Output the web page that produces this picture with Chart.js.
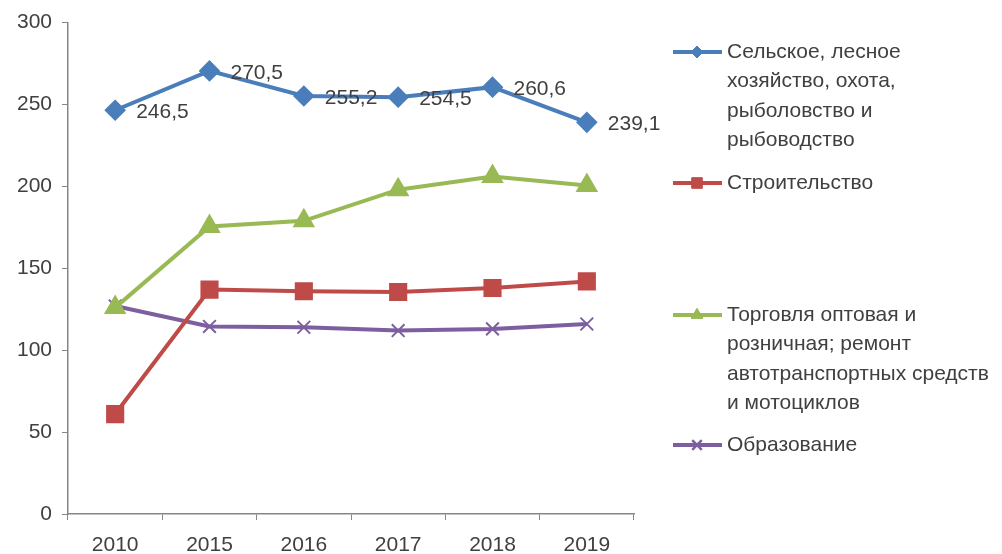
<!DOCTYPE html>
<html lang="ru">
<head>
    <meta charset="UTF-8">
    <title>Chart</title>
    <script src="https://cdn.jsdelivr.net/npm/chart.js@4.4.0/dist/chart.umd.min.js"></script>
    <style>
        body {
            margin: 0;
            background: #fff;
        }
        .wrap {
            width: 1002px;
            height: 554px;
            position: relative;
        }
    </style>
</head>
<body>
    <div class="wrap">
        <canvas id="chart"></canvas>
    </div>

    <script>
        const years = ['2010', '2015', '2016', '2017', '2018', '2019'];

        const agriculture = [246.5, 270.5, 255.2, 254.5, 260.6, 239.1];
        const construction = [61, 137, 136, 135.5, 138, 142];
        const trade = [126, 175.5, 179, 198, 206, 200.5];
        const education = [127, 114.5, 114, 112, 113, 116];

        const legendLines = [
            ['Сельское, лесное', 'хозяйство, охота,', 'рыболовство и', 'рыбоводство'],
            ['Строительство'],
            ['Торговля оптовая и', 'розничная; ремонт', 'автотранспортных средств', 'и мотоциклов'],
            ['Образование']
        ];

        const fontFamily = '"Liberation Sans", Arial, sans-serif';
        const textColor = '#404040';

        // value labels on the first series, comma as decimal separator
        const valueLabels = {
            id: 'valueLabels',
            afterDatasetsDraw(chart) {
                const ctx = chart.ctx;
                const meta = chart.getDatasetMeta(0);
                ctx.save();
                ctx.font = '21px ' + fontFamily;
                ctx.fillStyle = textColor;
                ctx.textAlign = 'left';
                ctx.textBaseline = 'middle';
                meta.data.forEach((pt, i) => {
                    const v = chart.data.datasets[0].data[i];
                    ctx.fillText(v.toFixed(1).replace('.', ','), pt.x + 21, pt.y + 2);
                });
                ctx.restore();
            }
        };

        // legend drawn on the right like the office chart
        const sideLegend = {
            id: 'sideLegend',
            afterDraw(chart) {
                const ctx = chart.ctx;
                const tops = [52, 183, 315, 445];
                const lineH = 29.5;
                ctx.save();
                chart.data.datasets.forEach((ds, i) => {
                    const y = tops[i];
                    ctx.strokeStyle = ds.borderColor;
                    ctx.lineWidth = 4;
                    ctx.beginPath();
                    ctx.moveTo(673, y);
                    ctx.lineTo(722, y);
                    ctx.stroke();
                    ctx.fillStyle = ds.backgroundColor;
                    ctx.strokeStyle = ds.borderColor;
                    ctx.lineWidth = ds.pointStyle === 'crossRot' ? 2.5 : 1;
                    Chart.helpers.drawPoint(ctx, {
                        pointStyle: ds.pointStyle,
                        radius: ds.pointRadius * 0.75,
                        borderWidth: ctx.lineWidth
                    }, 697, y);
                    ctx.font = '21px ' + fontFamily;
                    ctx.fillStyle = textColor;
                    ctx.textBaseline = 'middle';
                    ctx.textAlign = 'left';
                    legendLines[i].forEach((t, j) => {
                        ctx.fillText(t, 727, y + j * lineH);
                    });
                });
                ctx.restore();
            }
        };

        const ctx = document.getElementById('chart').getContext('2d');
        new Chart(ctx, {
            type: 'line',
            data: {
                labels: years,
                datasets: [{
                    label: legendLines[0].join(' '),
                    data: agriculture,
                    borderColor: '#4a7ebb',
                    backgroundColor: '#4a7ebb',
                    borderWidth: 4,
                    pointStyle: 'rectRot',
                    pointRadius: 8,
                    tension: 0
                }, {
                    label: legendLines[1].join(' '),
                    data: construction,
                    borderColor: '#be4b48',
                    backgroundColor: '#be4b48',
                    borderWidth: 4,
                    pointStyle: 'rect',
                    pointRadius: 10,
                    tension: 0
                }, {
                    label: legendLines[2].join(' '),
                    data: trade,
                    borderColor: '#98b954',
                    backgroundColor: '#98b954',
                    borderWidth: 4,
                    pointStyle: 'triangle',
                    pointRadius: 9,
                    tension: 0
                }, {
                    label: legendLines[3].join(' '),
                    data: education,
                    borderColor: '#7d5fa0',
                    backgroundColor: '#7d5fa0',
                    borderWidth: 4,
                    pointStyle: 'crossRot',
                    pointRadius: 9,
                    pointBorderWidth: 2,
                    tension: 0
                }]
            },
            options: {
                responsive: true,
                maintainAspectRatio: false,
                animation: false,
                layout: {
                    padding: { top: 10, right: 368, bottom: 0, left: 0 }
                },
                plugins: {
                    legend: { display: false },
                    tooltip: { enabled: false }
                },
                scales: {
                    x: {
                        offset: true,
                        afterFit(scale) {
                            scale.height = 40;
                        },
                        grid: {
                            offset: true,
                            drawOnChartArea: false,
                            tickLength: 6,
                            color: '#868686'
                        },
                        border: { color: '#868686', width: 1.5 },
                        ticks: {
                            color: textColor,
                            font: { size: 21, family: fontFamily },
                            padding: 13
                        }
                    },
                    y: {
                        min: 0,
                        max: 300,
                        afterFit(scale) {
                            scale.width = 68;
                        },
                        grid: {
                            drawOnChartArea: false,
                            tickLength: 6,
                            color: '#868686'
                        },
                        border: { color: '#868686', width: 1.5 },
                        ticks: {
                            stepSize: 50,
                            color: textColor,
                            font: { size: 21, family: fontFamily },
                            padding: 10
                        }
                    }
                }
            },
            plugins: [valueLabels, sideLegend]
        });
    </script>
</body>
</html>
